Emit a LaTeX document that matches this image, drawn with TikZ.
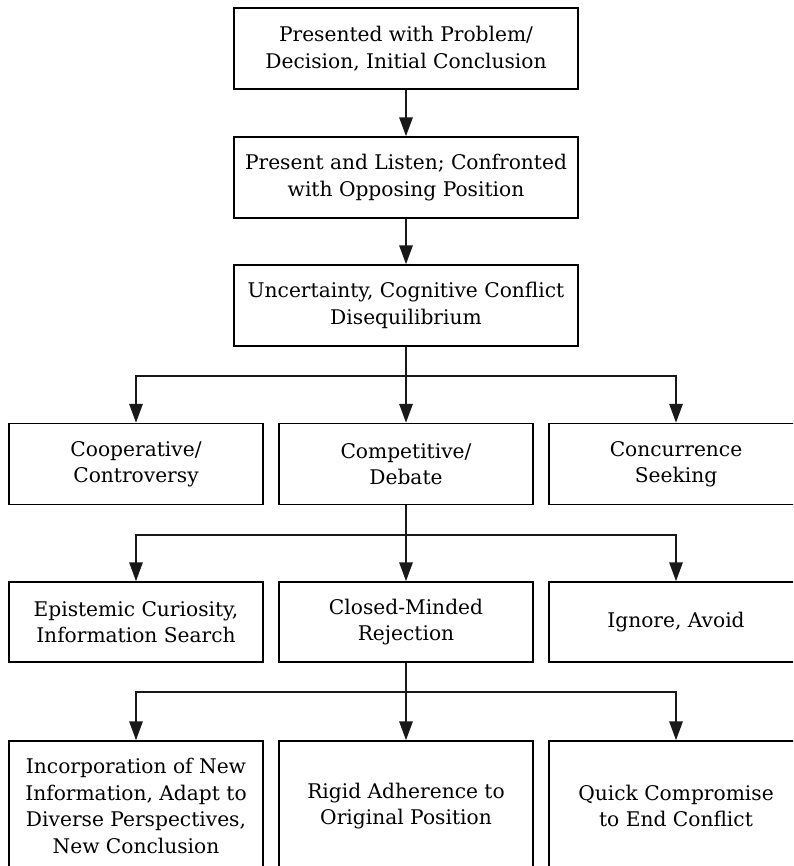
\documentclass[tikz,border=0pt]{standalone}
\usepackage{fontspec}
\setmainfont{DejaVu Serif}
\usetikzlibrary{arrows.meta}
\tikzset{
  box/.style={draw=black,line width=1.2pt,fill=white,align=center,inner sep=0pt,
    font=\fontsize{20.2}{26.5}\selectfont},
  topbox/.style={box,minimum width=344pt,minimum height=81pt},
  rowbox/.style={box,minimum width=254pt,minimum height=81pt},
  link/.style={line width=2.8pt,draw=black!90},
}
\begin{document}
\begin{tikzpicture}[x=1pt,y=-1pt]
  \useasboundingbox (0,0) rectangle (793,866);
  \clip (0,0) rectangle (793,866);
  % top chain
  \node[topbox] (present) at (406,48.5) {Presented with Problem/\\Decision, Initial Conclusion};
  \node[topbox] (listen) at (406,177.5) {Present and Listen; Confronted\\with Opposing Position};
  \node[topbox] (doubt) at (406,305.5) {Uncertainty, Cognitive Conflict\\Disequilibrium};
  % contexts
  \node[rowbox] (coop) at (136,464) {Cooperative/\\Controversy};
  \node[rowbox] (comp) at (406,464) {Competitive/\\Debate};
  \node[rowbox] (conc) at (676,464) {Concurrence\\Seeking};
  % reactions
  \node[rowbox,minimum height=80pt] (curious) at (136,622) {Epistemic Curiosity,\\Information Search};
  \node[rowbox,minimum height=80pt] (closed) at (406,622) {Closed-Minded\\Rejection};
  \node[rowbox,minimum height=80pt] (ignore) at (676,622) {Ignore, Avoid};
  % outcomes
  \node[rowbox,minimum height=130pt] (newconc) at (136,806) {Incorporation of New\\Information, Adapt to\\Diverse Perspectives,\\New Conclusion};
  \node[rowbox,minimum height=130pt] (rigid) at (406,806) {Rigid Adherence to\\Original Position};
  \node[rowbox,minimum height=130pt] (quick) at (676,806) {Quick Compromise\\to End Conflict};
  % splits
  \coordinate (split1) at (406,376);
  \coordinate (split2) at (406,535);
  \coordinate (split3) at (406,692);
  % connectors
  \draw[link,->,>={Triangle[length=19pt,width=13pt]}] (present) -- (listen);
  \draw[link,->,>={Triangle[length=19pt,width=13pt]}] (listen) -- (doubt);
  \draw[link] (doubt) -- (split1);
  \draw[link,->,>={Triangle[length=19pt,width=13pt]}] (split1) -| (coop);
  \draw[link,->,>={Triangle[length=19pt,width=13pt]}] (split1) -- (comp);
  \draw[link,->,>={Triangle[length=19pt,width=13pt]}] (split1) -| (conc);
  \draw[link] (comp) -- (split2);
  \draw[link,->,>={Triangle[length=19pt,width=13pt]}] (split2) -| (curious);
  \draw[link,->,>={Triangle[length=19pt,width=13pt]}] (split2) -- (closed);
  \draw[link,->,>={Triangle[length=19pt,width=13pt]}] (split2) -| (ignore);
  \draw[link] (closed) -- (split3);
  \draw[link,->,>={Triangle[length=19pt,width=13pt]}] (split3) -| (newconc);
  \draw[link,->,>={Triangle[length=19pt,width=13pt]}] (split3) -- (rigid);
  \draw[link,->,>={Triangle[length=19pt,width=13pt]}] (split3) -| (quick);
\end{tikzpicture}
\end{document}
